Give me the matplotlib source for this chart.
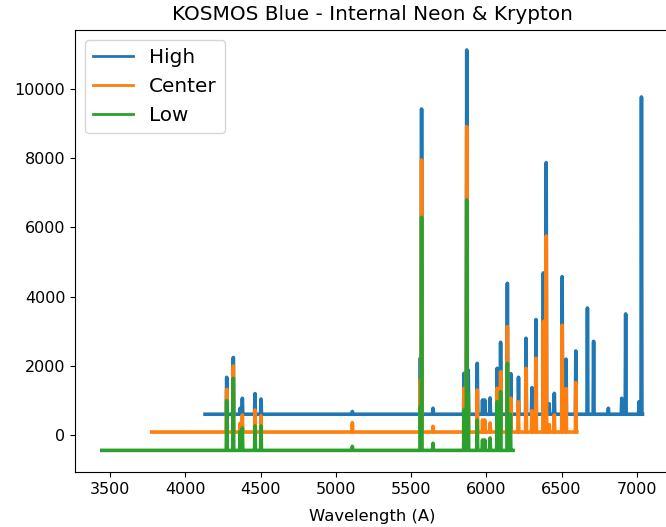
import matplotlib
matplotlib.use("Agg")
import matplotlib.pyplot as plt
import numpy as np

# ---- data ----
# wavelength coverage of each setting (A)
high_range = [4131, 7038]
center_range = [3777, 6601]
low_range = [3445, 6178]
# continuum levels
high_base = 600
center_base = 85
low_base = -445

high_lines = [4275, 4319, 4364, 4379, 4463, 4503, 5110, 5562, 5570, 5646, 5852, 5870,
              5880, 5940, 5975, 5990, 6025, 6072, 6095, 6140, 6163, 6214, 6264, 6303,
              6330, 6379, 6398, 6418, 6452, 6504, 6530, 6595, 6672, 6713, 6811, 6900,
              6926, 7015, 7031]
high_peaks = [1667, 2240, 771, 1060, 1195, 1040, 680, 2225, 9422, 772, 1783, 11127,
              1879, 2072, 1011, 1011, 1070, 1927, 2679, 4384, 1772, 1667, 2794, 1368,
              3334, 4683, 7871, 900, 1204, 4575, 2192, 2428, 3670, 2707, 772, 1060,
              3497, 962, 9769]

center_lines = [4275, 4319, 4364, 4379, 4463, 4503, 5110, 5562, 5570, 5646, 5852, 5870,
                5880, 5940, 5975, 5990, 6025, 6072, 6095, 6140, 6163, 6213, 6264, 6303,
                6330, 6379, 6398, 6418, 6452, 6504, 6530, 6595]
center_peaks = [1321, 1994, 338, 578, 722, 550, 355, 1590, 7948, 250, 1350, 8910,
                1150, 1300, 433, 433, 347, 1350, 1830, 3131, 1060, 963, 1927, 700,
                2216, 3285, 5751, 300, 578, 3170, 1340, 1517]

low_lines = [4275, 4319, 4364, 4379, 4463, 4503, 5110, 5562, 5570, 5646, 5852, 5870,
             5880, 5940, 5975, 5990, 6025, 6072, 6095, 6140, 6160]
low_peaks = [991, 1638, 95, 202, 260, 260, -330, 818, 6292, -240, 722, 6792,
             1200, 433, -145, -145, -87, 960, 1250, 2072, 600]

labels = ["High", "Center", "Low"]


def spectrum(rng, base, lines, peaks, half=3.0):
    w = [rng[0]]
    f = [base]
    for lw, pk in zip(lines, peaks):
        w += [lw - half, lw, lw + half]
        f += [base, pk, base]
    w.append(rng[1])
    f.append(base)
    return np.array(w), np.array(f)


fig = plt.figure(figsize=(6.66, 5.27), dpi=100)
ax = fig.add_axes([75 / 666, 55 / 527, 594 / 666, 442 / 527])

for rng, base, lines, peaks, lab in [
    (high_range, high_base, high_lines, high_peaks, labels[0]),
    (center_range, center_base, center_lines, center_peaks, labels[1]),
    (low_range, low_base, low_lines, low_peaks, labels[2]),
]:
    w, f = spectrum(rng, base, lines, peaks)
    ax.plot(w, f, lw=2.6, label=lab)

ax.set_xlim(3267, 7214)
ax.set_ylim(-1070, 11705)
ax.set_xticks([3500, 4000, 4500, 5000, 5500, 6000, 6500, 7000])
ax.set_yticks([0, 2000, 4000, 6000, 8000, 10000])
ax.tick_params(labelsize=11.5)
ax.set_xlabel("Wavelength (A)", fontsize=11.8, labelpad=9)
ax.set_title("KOSMOS Blue - Internal Neon & Krypton", fontsize=14.4, pad=7)
leg = ax.legend(loc="upper left", fontsize=14.4)
for ln in leg.get_lines():
    ln.set_linewidth(2.0)

fig.savefig("out.png", dpi=100)
